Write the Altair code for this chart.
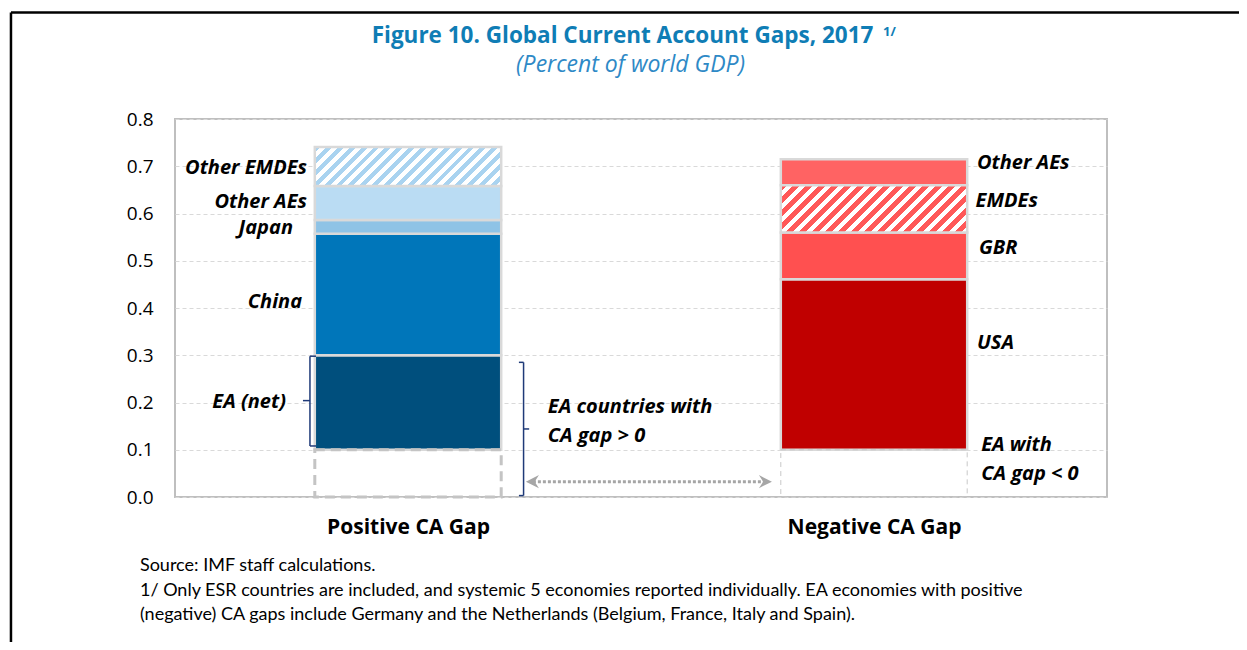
import altair as alt
import pandas as pd

# ------------------------------------------------------------------ data
groups = ["Positive CA Gap", "Negative CA Gap"]
group_pos = [0.25, 0.75]
bar_half = 0.1

pos_segments = ["EA with CA gap > 0 (offset)", "EA (net)", "China", "Japan", "Other AEs", "Other EMDEs"]
pos_values = [0.100, 0.200, 0.257, 0.029, 0.072, 0.083]
neg_segments = ["EA with CA gap < 0", "USA", "GBR", "EMDEs", "Other AEs"]
neg_values = [0.100, 0.361, 0.099, 0.100, 0.055]

y_ticks = [0.0, 0.1, 0.2, 0.3, 0.4, 0.5, 0.6, 0.7, 0.8]

left_labels = ["Other EMDEs", "Other AEs", "Japan", "China", "EA (net)"]
left_label_x = [0.1416, 0.1416, 0.1266, 0.1363, 0.119]
left_label_y = [0.696, 0.624, 0.569, 0.413, 0.201]

right_labels = ["Other AEs", "EMDEs", "GBR", "USA", "EA with", "CA gap < 0",
                "EA countries with", "CA gap > 0"]
right_label_x = [0.8605, 0.859, 0.8627, 0.8605, 0.865, 0.865, 0.400, 0.400]
right_label_y = [0.707, 0.626, 0.527, 0.326, 0.110, 0.049, 0.190, 0.129]

footnotes = [
    "Source: IMF staff calculations.",
    "1/ Only ESR countries are included, and systemic 5 economies reported individually. EA economies with positive",
    "(negative) CA gaps include Germany and the Netherlands (Belgium, France, Italy and Spain).",
]
footnote_x = -0.0376
footnote_y = [-0.146, -0.199, -0.2497]

title_text = "Figure 10. Global Current Account Gaps, 2017"
title_note = "1/"
subtitle_text = "(Percent of world GDP)"
title_xy = (0.4802, 0.9757)
note_xy = (0.7597, 0.984)
subtitle_xy = (0.4888, 0.914)

# ------------------------------------------------------------------ layout
PLOT_W, PLOT_H = 932, 378
Y_MAX = 0.8
FONT = "Open Sans"

xs = alt.Scale(domain=[0, 1], nice=False, zero=False)
ys = alt.Scale(domain=[0, Y_MAX], nice=False, zero=False)

rows = []
for g, cx, segs, vals in [(groups[0], group_pos[0], pos_segments, pos_values),
                          (groups[1], group_pos[1], neg_segments, neg_values)]:
    base = 0.0
    for s, v in zip(segs, vals):
        rows.append(dict(group=g, segment=s, key=f"{g}|{s}",
                         x=cx - bar_half, x2=cx + bar_half, y=base, y2=base + v))
        base += v
df = pd.DataFrame(rows)

solid_keys = [f"{groups[0]}|EA (net)", f"{groups[0]}|China", f"{groups[0]}|Japan",
              f"{groups[0]}|Other AEs", f"{groups[1]}|USA", f"{groups[1]}|GBR",
              f"{groups[1]}|Other AEs"]
solid_colors = ["#004F7D", "#0076BA", "#8EC3E6", "#BADCF3", "#C00000", "#FF5050", "#FF6363"]

label_expr = f"datum.value < 0.5 ? '{groups[0]}' : '{groups[1]}'"

x_axis = alt.Axis(values=group_pos, labelExpr=label_expr, title=None, grid=False,
                  ticks=False, domain=False, labelFont=FONT, labelFontSize=21,
                  labelFontWeight="bold", labelColor="#000000", labelPadding=19)
y_axis = alt.Axis(values=y_ticks, format=".1f", title=None, grid=True, gridDash=[4, 3],
                  gridColor="#D9D9D9", gridWidth=1, ticks=False, domain=False,
                  labelFont=FONT, labelFontSize=19, labelColor="#000000", labelPadding=22)


def X(field="x"):
    return alt.X(f"{field}:Q", scale=xs, axis=x_axis)


def Y(field="y"):
    return alt.Y(f"{field}:Q", scale=ys, axis=y_axis)


BAR_STROKE = "#D9D9D9"

bars_solid = alt.Chart(df).transform_filter(
    alt.FieldOneOfPredicate(field="key", oneOf=solid_keys)
).mark_rect(stroke=BAR_STROKE, strokeWidth=2.5).encode(
    x=X(), x2="x2:Q", y=Y(), y2="y2:Q",
    color=alt.Color("key:N", scale=alt.Scale(domain=solid_keys, range=solid_colors), legend=None),
)


def hatch(color, value, period_px):
    W = 2 * bar_half * PLOT_W
    H = value * PLOT_H / Y_MAX
    r = H / W
    k = (1 + r) / (1 + r * r)
    n = max(1, round((W + H) / period_px))
    stops = []
    for i in range(n):
        a = i / n
        b = (i + 0.5) / n
        c = (i + 1) / n
        stops += [alt.GradientStop(color=color, offset=a),
                  alt.GradientStop(color=color, offset=b),
                  alt.GradientStop(color="#FFFFFF", offset=b),
                  alt.GradientStop(color="#FFFFFF", offset=c)]
    return alt.LinearGradient(gradient="linear", stops=stops, x1=0, y1=0, x2=k, y2=k * r)


hatched = []
for key, col, val, per in [(f"{groups[0]}|Other EMDEs", "#A9D3F0", pos_values[5], 11.7),
                           (f"{groups[1]}|EMDEs", "#FF5858", neg_values[3], 13.0)]:
    hatched.append(
        alt.Chart(df).transform_filter(alt.datum.key == key).mark_rect(
            color=hatch(col, val, per), stroke=BAR_STROKE, strokeWidth=2.5
        ).encode(x=X(), x2="x2:Q", y=Y(), y2="y2:Q")
    )

box_pos = alt.Chart(df).transform_filter(
    alt.datum.key == f"{groups[0]}|{pos_segments[0]}"
).mark_rect(fill="#FFFFFF", fillOpacity=0, stroke="#C4C4C4", strokeWidth=3,
            strokeDash=[10, 6]).encode(x=X(), x2="x2:Q", y=Y(), y2="y2:Q")
box_neg = alt.Chart(df).transform_filter(
    alt.datum.key == f"{groups[1]}|{neg_segments[0]}"
).mark_rect(fill="#FFFFFF", fillOpacity=0, stroke="#C8C8C8", strokeWidth=1,
            strokeDash=[5, 4]).encode(x=X(), x2="x2:Q", y=Y(), y2="y2:Q")

# braces (annotation line segments)
brace_x0 = [0.1448, 0.1448, 0.1448, 0.1448, 0.374, 0.374, 0.374, 0.374]
brace_x1 = [0.1448, 0.1513, 0.1513, 0.1373, 0.374, 0.369, 0.369, 0.380]
brace_y0 = [0.108, 0.298, 0.108, 0.204, 0.003, 0.285, 0.003, 0.144]
brace_y1 = [0.298, 0.298, 0.108, 0.204, 0.285, 0.285, 0.003, 0.144]
braces = alt.Chart(pd.DataFrame(dict(x=brace_x0, x2=brace_x1, y=brace_y0, y2=brace_y1))).mark_rule(
    color="#1F3A78", strokeWidth=1.5
).encode(x=X(), x2="x2:Q", y=Y(), y2="y2:Q")

# double-headed dotted arrow
arrow_y = 0.0325
arrow_df = pd.DataFrame(dict(x=[0.384], x2=[0.633], y=[arrow_y]))
arrow_line = alt.Chart(arrow_df).mark_rule(color="#A6A6A6", strokeWidth=3, strokeDash=[3, 2]).encode(
    x=X(), x2="x2:Q", y=Y()
)
heads_df = pd.DataFrame(dict(x=[0.3835, 0.6335], y=[arrow_y, arrow_y], dir=["left", "right"]))
head_left = alt.Chart(heads_df).transform_filter(alt.datum.dir == "left").mark_point(
    shape="M-1,0 L1,-1 L0.35,0 L1,1 Z", filled=True, color="#A6A6A6", size=170, opacity=1
).encode(x=X(), y=Y())
head_right = alt.Chart(heads_df).transform_filter(alt.datum.dir == "right").mark_point(
    shape="M1,0 L-1,-1 L-0.35,0 L-1,1 Z", filled=True, color="#A6A6A6", size=170, opacity=1
).encode(x=X(), y=Y())

# text labels
LABEL_STYLE = dict(baseline="middle", font=FONT, fontSize=20, fontWeight="bold",
                   fontStyle="italic", color="#000000")
lab_l = alt.Chart(pd.DataFrame(dict(t=left_labels, x=left_label_x, y=left_label_y))).mark_text(
    align="right", **LABEL_STYLE
).encode(x=X(), y=Y(), text="t:N")
lab_r = alt.Chart(pd.DataFrame(dict(t=right_labels, x=right_label_x, y=right_label_y))).mark_text(
    align="left", **LABEL_STYLE
).encode(x=X(), y=Y(), text="t:N")

foot = alt.Chart(pd.DataFrame(dict(t=footnotes, x=[footnote_x] * 3, y=footnote_y))).mark_text(
    align="left", baseline="middle", font="Lato", fontSize=18, color="#000000"
).encode(x=X(), y=Y(), text="t:N")

# title, subtitle and note
title_mark = alt.Chart(pd.DataFrame(dict(t=[title_text], x=[title_xy[0]], y=[title_xy[1]]))).mark_text(
    align="center", baseline="middle", font=FONT, fontSize=22.5, fontWeight="bold", color="#0F7DB5"
).encode(x=X(), y=Y(), text="t:N")
note_mark = alt.Chart(pd.DataFrame(dict(t=[title_note], x=[note_xy[0]], y=[note_xy[1]]))).mark_text(
    align="left", baseline="middle", font=FONT, fontSize=13, fontWeight="bold", color="#0F7DB5"
).encode(x=X(), y=Y(), text="t:N")
subtitle_mark = alt.Chart(pd.DataFrame(dict(t=[subtitle_text], x=[subtitle_xy[0]], y=[subtitle_xy[1]]))).mark_text(
    align="center", baseline="middle", font=FONT, fontSize=23, fontStyle="italic", color="#2E89C6"
).encode(x=X(), y=Y(), text="t:N")

# outer black frame (top and left edges)
frame_df = pd.DataFrame(dict(x=[-0.176, -0.176], x2=[1.3, -0.176], y=[1.0254, 1.0254], y2=[1.0254, -0.4]))
frame = alt.Chart(frame_df).mark_rule(color="#000000", strokeWidth=2.5).encode(
    x=X(), x2="x2:Q", y=Y(), y2="y2:Q"
)

chart = alt.layer(
    bars_solid, *hatched, box_pos, box_neg, braces, arrow_line, head_left, head_right,
    lab_l, lab_r, foot, title_mark, note_mark, subtitle_mark, frame
).properties(
    width=PLOT_W, height=PLOT_H,
    autosize=alt.AutoSizeParams(type="none"),
    padding={"left": 167, "top": 111, "right": 132, "bottom": 145},
).configure_view(stroke="#BFBFBF", strokeWidth=2)

chart.save("out.html", embed_options={"renderer": "svg", "actions": False})
